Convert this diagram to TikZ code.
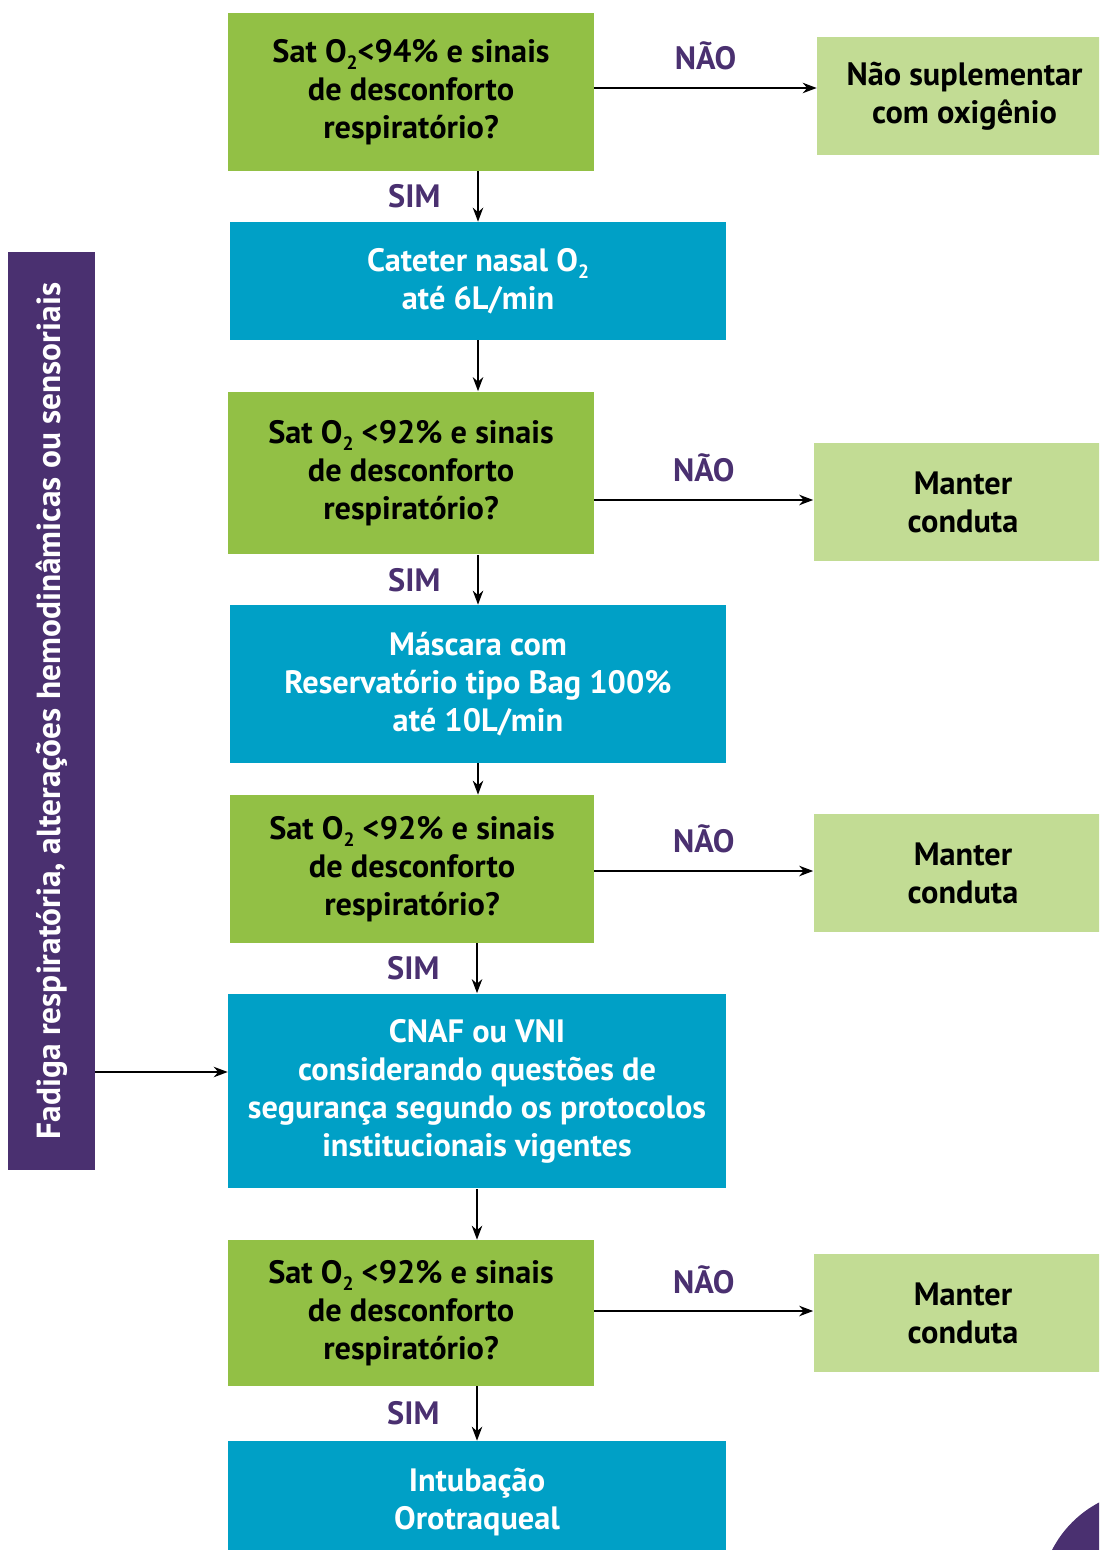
\documentclass[tikz,border=0pt]{standalone}
\usepackage{fontspec}
\setmainfont{PT Sans}
\usepackage{xcolor}
\usetikzlibrary{arrows.meta}

\definecolor{verde}{HTML}{92C045}
\definecolor{verdeclaro}{HTML}{C2DC94}
\definecolor{azul}{HTML}{00A0C6}
\definecolor{roxo}{HTML}{4A3070}

\newcommand{\otwo}{O\raisebox{-0.45ex}{\fontsize{11}{11}\selectfont 2}}

\begin{document}
\begin{tikzpicture}[x=0.02cm, y=-0.02cm,
  caixa/.style={inner sep=0pt, align=center, font=\fontsize{18.4}{21.6}\selectfont\bfseries},
  pergunta/.style={caixa, fill=verde, text=black, minimum width=7.32cm},
  conduta/.style={caixa, fill=azul, text=white, minimum width=9.94cm},
  resposta/.style={caixa, fill=verdeclaro, text=black, minimum width=5.98cm, minimum height=2.36cm},
  seta/.style={-{Stealth[length=8pt,width=6pt]}, line width=0.8pt},
  rotulo/.style={text=roxo, font=\fontsize{18.4}{18.4}\selectfont\bfseries}]

\useasboundingbox (0,0) rectangle (1099,1550);
\clip (0,0) rectangle (1099,1550);

% decisoes
\node[pergunta, minimum height=3.16cm] (q1) at (411,92) {Sat \otwo<94\% e sinais\\de desconforto\\respiratório?};
\node[pergunta, minimum height=3.26cm] (q2) at (411,473) {Sat \otwo{} <92\% e sinais\\de desconforto\\respiratório?};
\node[pergunta, minimum height=2.96cm, minimum width=7.28cm] (q3) at (412,869) {Sat \otwo{} <92\% e sinais\\de desconforto\\respiratório?};
\node[pergunta, minimum height=2.92cm] (q4) at (411,1313) {Sat \otwo{} <92\% e sinais\\de desconforto\\respiratório?};

% condutas
\node[conduta, minimum height=2.36cm] (b1) at (478,281) {Cateter nasal \otwo\\até 6L/min};
\node[conduta, minimum height=3.16cm] (b2) at (478,684) {Máscara com\\Reservatório tipo Bag 100\%\\até 10L/min};
\node[conduta, minimum height=3.9cm, minimum width=9.96cm] (b3) at (477,1091) {CNAF ou VNI\\considerando questões de\\segurança segundo os protocolos\\institucionais vigentes};
\node[conduta, minimum height=2.44cm, minimum width=9.96cm] (b4) at (477,1502) {Intubação\\Orotraqueal};

% respostas NAO
\node[resposta, minimum width=5.9cm] (n1) at (964.5,96) {Não suplementar\\com oxigênio};
\node[resposta] (n2) at (963,502) {Manter\\conduta};
\node[resposta] (n3) at (963,873) {Manter\\conduta};
\node[resposta] (n4) at (963,1313) {Manter\\conduta};

% barra lateral
\node[caixa, fill=roxo, text=white, minimum width=1.74cm, minimum height=18.36cm] (barra) at (51.5,711) {};
\node[caixa, text=white, rotate=90, font=\fontsize{19}{21}\selectfont\bfseries] (fadiga) at (barra.center) {Fadiga respiratória, alterações hemodinâmicas ou sensoriais};

\fill[roxo] (1150,1600) circle (110);

% setas SIM
\draw[seta] (q1.south -| b1.north) -- node[rotulo, midway, left=0.62cm] {SIM} (b1.north);
\draw[seta] (b1.south) -- (b1.south |- q2.north);
\draw[seta] (q2.south -| b2.north) -- node[rotulo, midway, left=0.62cm] {SIM} (b2.north);
\draw[seta] (b2.south) -- (b2.south |- q3.north);
\draw[seta] (q3.south -| b3.north) -- node[rotulo, midway, left=0.62cm] {SIM} (b3.north);
\draw[seta] (b3.south) -- (b3.south |- q4.north);
\draw[seta] (q4.south -| b4.north) -- node[rotulo, midway, left=0.62cm] {SIM} (b4.north);

% setas NAO
\draw[seta] ([yshift=0.08cm]q1.east) -- node[rotulo, midway, above=0.22cm] {NÃO} ([yshift=0.08cm]q1.east -| n1.west);
\draw[seta] ([yshift=0.04cm]q2.east |- n2.west) -- node[rotulo, midway, above=0.22cm] {NÃO} ([yshift=0.04cm]n2.west);
\draw[seta] ([yshift=0.04cm]q3.east |- n3.west) -- node[rotulo, midway, above=0.22cm] {NÃO} ([yshift=0.04cm]n3.west);
\draw[seta] ([yshift=0.04cm]q4.east |- n4.west) -- node[rotulo, midway, above=0.22cm] {NÃO} ([yshift=0.04cm]n4.west);

\draw[seta] (barra.east |- 0,1072) -- (b3.west |- 0,1072);

\end{tikzpicture}
\end{document}
